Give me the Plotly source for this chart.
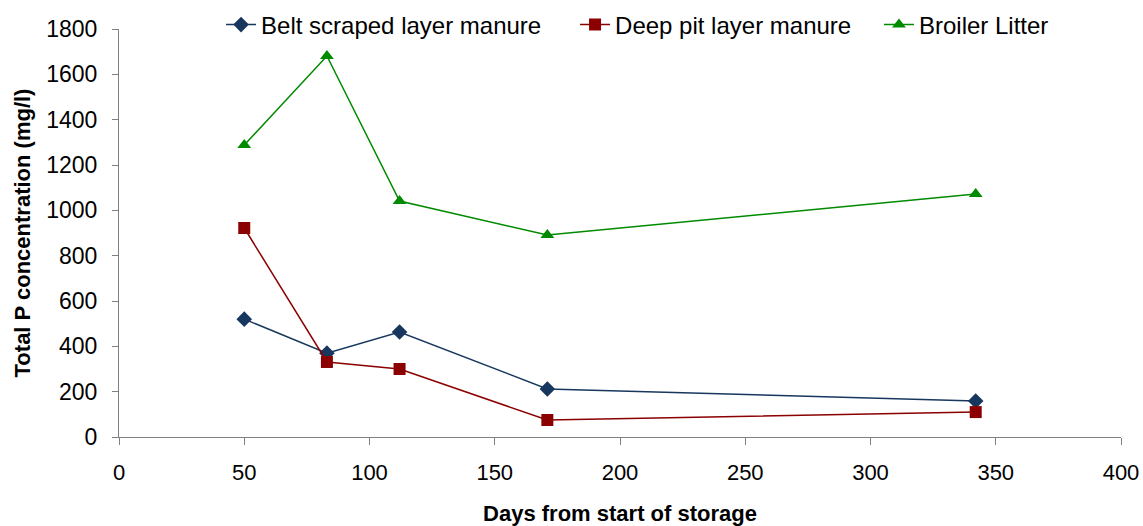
import plotly.graph_objects as go

days = [50, 83, 112, 171, 342]
belt = [520, 370, 463, 212, 159]
deep = [922, 331, 300, 75, 110]
broiler = [1288, 1681, 1041, 891, 1072]

series = [
    ("Belt scraped layer manure", belt, "#17375E", "diamond", "legend", 0.1934),
    ("Deep pit layer manure", deep, "#8B0000", "square", "legend2", 0.5031),
    ("Broiler Litter", broiler, "#008A00", "triangle-up", "legend3", 0.769),
]

fig = go.Figure()
font = "Liberation Sans, Arial, sans-serif"
legends = {}
for name, vals, col, sym, leg, lx in series:
    fig.add_trace(go.Scatter(
        x=days, y=vals, name=name, mode="lines+markers", legend=leg,
        line=dict(color=col, width=1.5),
        marker=dict(symbol=sym, size=12, color=col),
    ))
    legends[leg] = dict(orientation="h", xref="container", yref="container",
                        x=lx, y=0.9525, xanchor="left", yanchor="middle",
                        font=dict(size=24), bgcolor="rgba(255,255,255,0)")

fig.update_layout(
    width=1143, height=526,
    margin=dict(l=119, r=22, t=29, b=89, autoexpand=False),
    paper_bgcolor="white", plot_bgcolor="white",
    font=dict(family=font, size=23, color="black"),
    showlegend=True,
    **legends,
)
fig.update_xaxes(
    range=[0, 400], tickvals=[0, 50, 100, 150, 200, 250, 300, 350, 400],
    showgrid=False, zeroline=False, showline=True, linecolor="#808080", linewidth=1,
    ticks="outside", ticklen=7, tickcolor="#808080", ticklabelstandoff=9,
    tickfont=dict(size=22), automargin=False,
    title=dict(text="<b>Days from start of storage</b>", font=dict(size=22), standoff=21),
)
fig.update_yaxes(
    range=[0, 1800], tickvals=list(range(0, 1801, 200)),
    showgrid=False, zeroline=False, showline=True, linecolor="#808080", linewidth=1,
    ticks="outside", ticklen=6, tickcolor="#808080", ticklabelstandoff=10,
    tickfont=dict(size=23), automargin=False,
    title=dict(text="<b>Total P concentration (mg/l)</b>", font=dict(size=22), standoff=9),
)
fig.write_html("out.html")
